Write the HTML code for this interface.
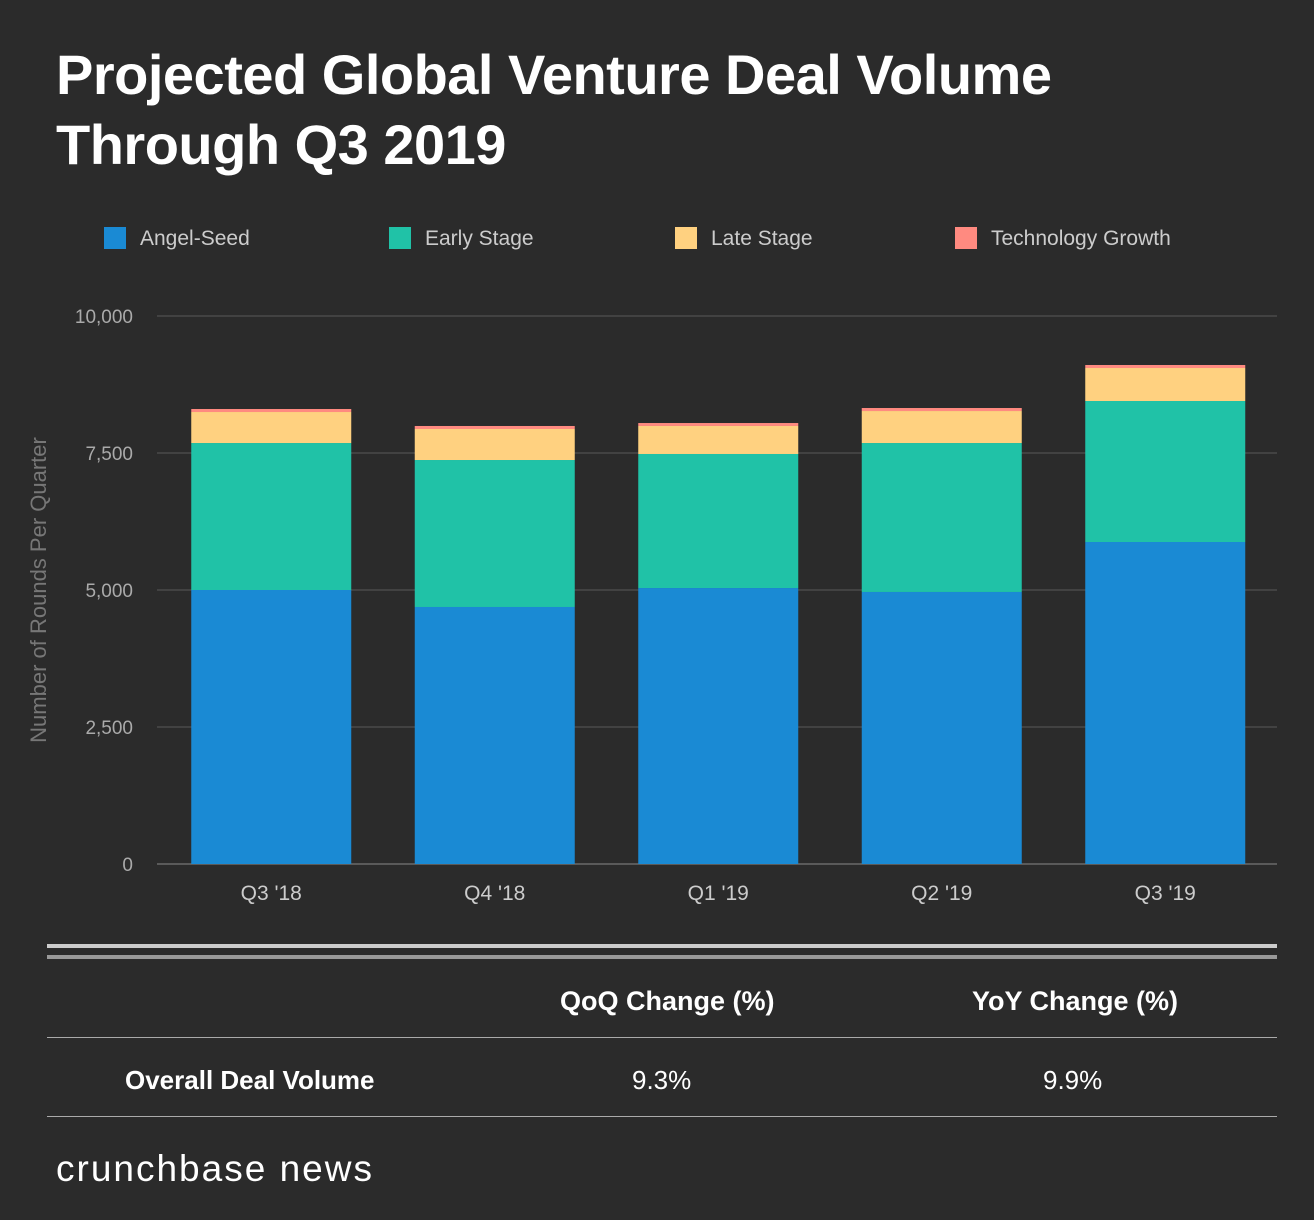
<!DOCTYPE html>
<html><head><meta charset="utf-8"><style>
body{margin:0;background:#2b2b2b;width:1314px;height:1220px;overflow:hidden;font-family:"Liberation Sans",sans-serif;position:relative;color:#fff}
.abs{position:absolute}
</style></head><body>
<div class="abs" style="left:56px;top:40px;font-size:56px;font-weight:bold;line-height:70px;letter-spacing:-0.5px">Projected Global Venture Deal Volume<br>Through Q3 2019</div>
<svg class="abs" style="left:0;top:0" width="1314" height="1220" id="chart"></svg>
<script>
const categories=["Q3 '18","Q4 '18","Q1 '19","Q2 '19","Q3 '19"];
const angelSeed=[5000,4690,5036,4964,5876];
const earlyStage=[2682,2682,2446,2718,2573];
const lateStage=[566,566,511,584,602];
const techGrowth=[55,55,54,55,55];
const yTicks=[0,2500,5000,7500,10000];
const yTickLabels=["0","2,500","5,000","7,500","10,000"];
const seriesNames=["Angel-Seed","Early Stage","Late Stage","Technology Growth"];
const seriesColors=["#1a8ad4","#20c2a7","#ffd180","#ff8a80"];
const NS="http://www.w3.org/2000/svg";
const svg=document.getElementById('chart');
const x0=157,x1=1277,bx0=159.5,yBase=864,yTop=316,yMax=10000;
const y=v=>yBase-(v/yMax)*(yBase-yTop);
const band=223.5,bw=160;
const xc=i=>bx0+band*i+band/2;
function mk(t,a){const e=document.createElementNS(NS,t);for(const k in a)e.setAttribute(k,a[k]);svg.appendChild(e);return e;}
yTicks.forEach((t,i)=>{
 const l=mk('line',{x1:x0,x2:x1,y1:y(t),y2:y(t),stroke:i==0?'#888':'#5a5a5a','stroke-width':1});
 
 
 const tx=mk('text',{x:133,y:y(t)+7,'text-anchor':'end',fill:'#aaa','font-size':19,'font-family':'Liberation Sans'});
 tx.textContent=yTickLabels[i];
 
 
});
const series=[angelSeed,earlyStage,lateStage,techGrowth];
categories.forEach((c,i)=>{
 let acc=0;
 series.forEach((s,k)=>{
  const r=mk('rect',{x:xc(i)-bw/2,y:y(acc+s[i]),width:bw,height:y(acc)-y(acc+s[i]),fill:seriesColors[k]});
  
  
  acc+=s[i];
 });
 const tx=mk('text',{x:xc(i),y:900,'text-anchor':'middle',fill:'#ccc','font-size':21,'font-family':'Liberation Sans'});
 tx.textContent=c;
 
 
});
const yt=mk('text',{x:0,y:0,transform:'translate(46,590) rotate(-90)','text-anchor':'middle',fill:'#777','font-size':22,'font-family':'Liberation Sans'});
yt.textContent='Number of Rounds Per Quarter';


const lx=[104,389,675,955];
seriesNames.forEach((n,k)=>{
 const r=mk('rect',{x:lx[k],y:227,width:22,height:22,fill:seriesColors[k]});
 
 
 const t=mk('text',{x:lx[k]+36,y:245,fill:'#ccc','font-size':21,'font-family':'Liberation Sans'});
 t.textContent=n;
 
 
});
</script>
<div class="abs" style="left:47px;top:944px;width:1230px;height:4px;background:#ccc"></div>
<div class="abs" style="left:47px;top:955px;width:1230px;height:4px;background:#999"></div>
<div class="abs" style="left:560px;top:986px;font-size:27px;font-weight:bold">QoQ Change (%)</div>
<div class="abs" style="left:972px;top:986px;font-size:27px;font-weight:bold">YoY Change (%)</div>
<div class="abs" style="left:47px;top:1037px;width:1230px;height:1px;background:#aaa"></div>
<div class="abs" style="left:125px;top:1065px;font-size:26px;font-weight:bold">Overall Deal Volume</div>
<div class="abs" style="left:632px;top:1065px;font-size:26px">9.3%</div>
<div class="abs" style="left:1043px;top:1065px;font-size:26px">9.9%</div>
<div class="abs" style="left:47px;top:1116px;width:1230px;height:1px;background:#aaa"></div>
<div class="abs" style="left:56px;top:1148px;font-size:37px;letter-spacing:2px">crunchbase news</div>
</body></html>
